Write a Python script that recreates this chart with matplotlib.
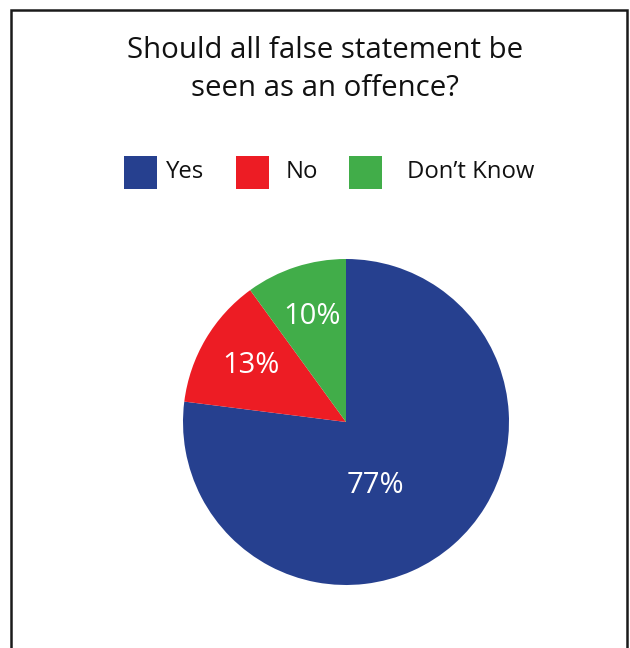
import numpy as np
import matplotlib.pyplot as plt
from matplotlib.patches import Rectangle

# Survey answers
labels = ["Yes", "No", "Don't Know"]
legend_labels = ["Yes", "No", "Don\u2019t Know"]
shares = [77, 13, 10]
colors = ["#26408f", "#ed1c24", "#41ad49"]

plt.rcParams['font.family'] = ['Open Sans', 'DejaVu Sans']

fig = plt.figure(figsize=(6.3, 6.48), dpi=100)

# outer frame, open at the bottom
fig.add_artist(Rectangle((11 / 630, -0.05), 616 / 630, 1.05 - 10 / 648,
                         transform=fig.transFigure, fill=False,
                         edgecolor="#1a1a1a", linewidth=1.8))

fig.text(0.516, 1 - 50 / 648, "Should all false statement be",
         ha="center", va="center", fontsize=21.2, color="#111111")
fig.text(0.516, 1 - 88 / 648, "seen as an offence?",
         ha="center", va="center", fontsize=21.2, color="#111111")

# legend row
sq = 33
legend_x = [124, 236, 349]
text_x = [166, 286, 407]
for lx, tx, lab, c in zip(legend_x, text_x, legend_labels, colors):
    fig.add_artist(Rectangle((lx / 630, 1 - 189 / 648), sq / 630, sq / 648,
                             transform=fig.transFigure, color=c, lw=0))
    fig.text(tx / 630, 1 - 172 / 648, lab, ha="left", va="center",
             fontsize=17.2, color="#111111")

# pie
cx, cy, r = 346, 422, 163
ax = fig.add_axes([(cx - r) / 630, 1 - (cy + r) / 648, 2 * r / 630, 2 * r / 648])
wedges, _ = ax.pie(shares, colors=colors, startangle=90, counterclock=False,
                   wedgeprops=dict(linewidth=0))
ax.set_xlim(-1, 1)
ax.set_ylim(-1, 1)
ax.set_aspect("auto")
ax.axis("off")

for w, v in zip(wedges, shares):
    mid = np.deg2rad((w.theta1 + w.theta2) / 2)
    if v > 50:
        x, y = 0.18, -0.39
    else:
        x, y = 0.68 * np.cos(mid), 0.68 * np.sin(mid)
    ax.text(x, y, f"{v}%", ha="center", va="center", color="white", fontsize=21)

fig.savefig("out.png", dpi=100)
